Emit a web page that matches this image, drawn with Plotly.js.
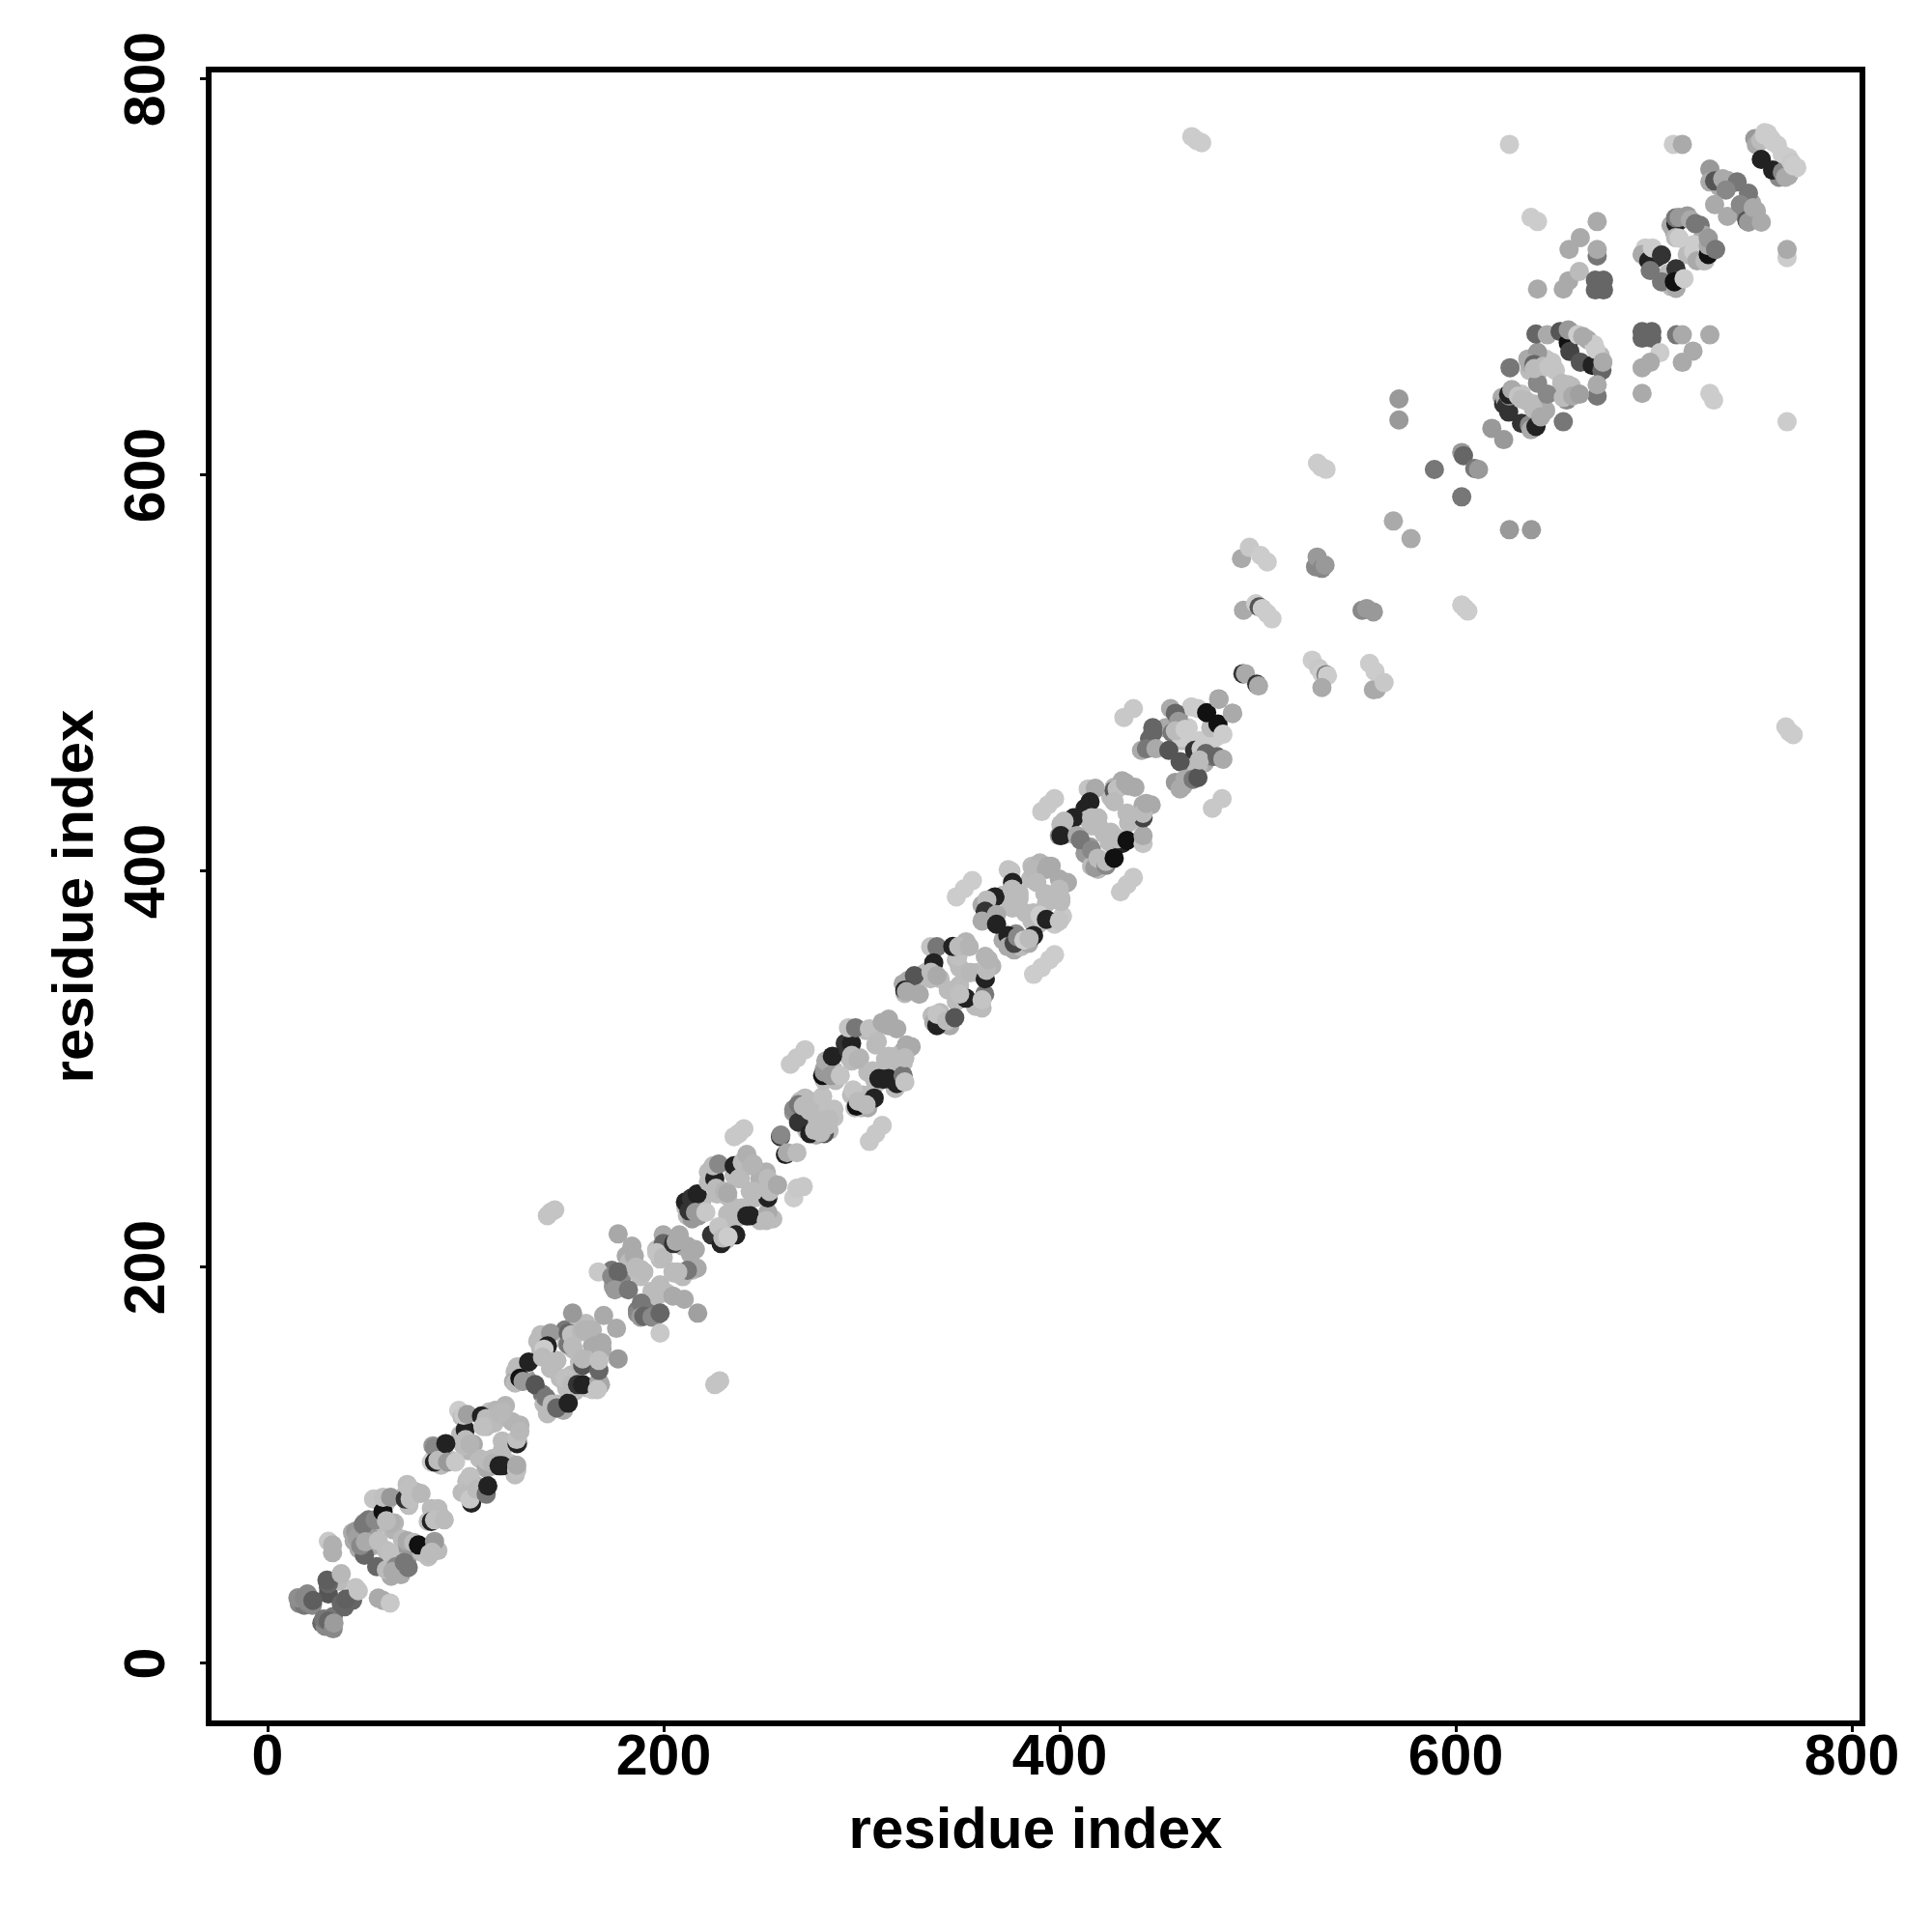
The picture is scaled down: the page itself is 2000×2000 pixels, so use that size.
<!DOCTYPE html>
<html><head><meta charset="utf-8">
<script src="https://cdn.plot.ly/plotly-3.0.1.min.js"></script>
<style>html,body{margin:0;padding:0;background:#fff}</style></head>
<body><div id="chart" style="width:2000px;height:2000px"></div>
<script>
// each entry: residue index i, residue index j, grey level. "under" lists are drawn below the block of the same letter.
const underA=[[16,30.2,136],[18.5,29.4,119],[20.1,35.1,136],[22.6,29.4,136],[27.4,20.4,102],[29,18.8,136],[33.1,23.7,119],[30.7,38.3,102],[30.7,35.1,85],[36.4,41.6,187],[38.8,28.6,102],[42.9,31.9,102],[37.2,30.2,102],[44.5,38.3,196],[58.3,31.8,170]];
const blockA=[[15.3,33.1,142],[18.5,33.1,136],[20.1,31,136],[22.9,31.8,94],[28.3,22.4,119],[30.7,21.3,102],[33.1,17.5,136],[33.5,20.4,156],[30.7,40.3,102],[30,42,94],[37.2,45.3,184],[40.4,31.5,102],[39.6,32.5,96],[45.8,36.7,196],[55.9,33,170],[61.9,30.5,200],[30.7,61.7,200],[32.8,59.8,176],[32.8,55.9,176]];
const underB=[[42.9,66,170],[43.7,61.9,170],[46.1,57.8,170],[48.9,70.9,136],[51,72.5,119],[52.6,69.2,153],[64,70.9,180],[63.2,67.6,180],[58.3,70.9,187],[51,60.3,187],[53.5,59.5,170],[60,81.4,196],[53.5,83,196],[70.5,90.4,190],[69.7,85.5,190],[73.8,87.1,187],[75.4,86.3,180],[71.3,79.8,190],[82.7,78.2,187],[86,78.2,187],[87.6,74.1,187],[81.1,71.7,192],[68.1,62.7,187],[70.5,58.7,170],[68.9,54.6,153],[73,57,187],[70.5,53,153],[65.6,51.3,187],[63.2,48.9,187],[67.3,44.8,170],[62.4,44,170],[77.8,56.2,187],[81.1,53.8,190],[86,57,187],[60,57,187]];
const blockB=[[44.5,66.8,153],[45.3,63.5,160],[48.3,70,119],[48.9,54.6,102],[47,59.5,136],[49.4,61.4,170],[54.3,72.5,136],[55.1,48.9,102],[55.9,61.9,190],[55.9,83,196],[58.3,76.6,17],[58.3,83.9,192],[62.1,83.9,153],[62.4,70.9,176],[60,72,187],[61.6,56.2,192],[60,47.3,187],[64.8,48.9,136],[63.2,46.5,170],[66.5,45.6,170],[69,51,119],[71,48.4,119],[70.5,61.9,170],[73.8,61.1,187],[76.2,59.8,17],[84.3,61.6,153],[81.9,55.4,187],[83,56.2,187],[69.5,83,51],[71.3,88.7,192],[72,83,192],[77.5,85.8,184],[85.2,77.4,187],[82.7,71.7,34],[84.3,72.5,192],[89.2,72.5,187]];
const underC=[[84,103.4,187],[83.5,109.9,153],[86.8,103.4,192],[87.6,100.1,187],[92.5,102.6,187],[96.5,127.8,204],[98.2,124.5,187],[97.4,115.6,187],[101.4,107.4,180],[99,109.9,187],[103.9,110.7,170],[98.2,86.3,187],[100.6,92,190],[102.2,87.1,187],[105.5,85.5,170],[108.7,88.7,187],[104.7,90.4,187],[107.1,103.4,187],[110.4,98.5,170],[113.6,103.4,187],[112,99.3,170],[110.4,119.6,187],[112,127,190],[115.2,127.8,180],[120.1,130.2,180],[114.4,121.3,187],[120.1,111.5,187],[118.5,107.4,187],[127.4,120.4,180],[123.4,122.1,180],[126.6,111.5,187],[125,95.2,190],[122.6,100.9,187]];
const blockC=[[82.7,101.7,204],[84.3,109.1,136],[84.3,101.7,34],[86,102.6,187],[90,111,34],[90.9,101.7,153],[94.9,101.7,200],[99.8,118,34],[99,125.3,200],[100.9,125.7,160],[100,113,187],[102.2,110.7,180],[103,81,34],[102.2,83,200],[102.2,94.4,192],[105.5,87.9,187],[110.4,85.5,119],[111.2,89.6,34],[108,125,34],[110.4,123.7,187],[108.7,119.6,192],[116.9,126.1,184],[118.5,127,184],[110.4,102.6,187],[113.6,100.9,180],[118.5,112.3,187],[116.9,99.8,34],[118.5,99.8,34],[125.8,97.7,192],[125.8,100.1,170],[126,111,34],[125.8,113.1,192],[127.4,117.2,184]];
const underD=[[125,147.3,187],[124.2,142.4,170],[128.3,142.4,170],[130.7,144,153],[129.9,150.5,187],[138,158.7,187],[136.4,162.7,187],[139.6,155.4,187],[146.1,153,187],[142.9,148.9,187],[138.8,135.9,119],[139.6,131,187],[142.9,127.8,153],[146.1,131,187],[149.4,127.8,170],[147.8,144,187],[151,139.1,187],[155.1,137.5,187],[153.5,145.7,187],[161.6,139.1,187],[168.1,140.8,170],[164,138.3,200],[150.2,168.4,119],[151,161.9,187],[154.3,158.7,187],[157.5,171.7,187],[160.8,171.7,187],[164,168.4,180],[165.7,158.7,170],[168.9,161.9,170],[164,160.3,170],[157.5,152.2,187],[162.4,153,187],[167.3,155.4,187]];
const blockD=[[126,149.7,187],[125,141.6,187],[127.4,144,17],[129,142.4,153],[131.8,152.2,34],[135.1,140.8,85],[138,166,187],[142.9,166.8,153],[141.3,160.3,34],[139.6,158.7,204],[138.8,154.6,187],[144.5,152.2,187],[142.9,152.2,187],[140.5,134.3,119],[141.3,126.1,187],[143.7,131,187],[146,129,102],[151.8,131.4,34],[150.2,144,192],[153.5,140.8,187],[156.5,140.8,51],[159.1,140.8,34],[167.3,142.4,168],[166.5,138.3,196],[151.8,166.8,102],[151.8,161,119],[153.5,166,192],[158.5,167.6,184],[160,168.4,180],[154,160.3,187],[167.3,160.3,170],[168.9,158.7,170],[159.1,150.5,85],[159.1,153.8,184],[167.3,148,102],[167.3,153,192],[154,176.9,153],[169.7,175.7,170],[176.2,169.2,170],[177,153.8,153],[177,216.9,168]];
const underE=[[181.1,205.8,170],[182.7,202.6,187],[183.5,198.5,187],[188.4,195.3,190],[173.8,198.5,119],[174.6,190.4,153],[178.7,192.8,136],[186.8,178.2,119],[186.8,176.6,136],[191.7,178.2,119],[194.9,179,119],[194.1,187.9,187],[198.2,191.2,187],[201.4,187.1,187],[196.5,185.5,187],[196.5,209,190],[198.2,204.2,190],[203,213.9,170],[207.9,216.4,170],[209.6,210.7,170],[204.7,197.7,187],[209.6,195.3,187],[214.4,198.5,187],[216,209,170],[212,210.7,170]];
const blockE=[[167,197.7,200],[173.8,195.3,136],[177,197.7,102],[175.4,188.7,153],[182.2,188.7,119],[188.7,181.9,119],[188.4,174.9,153],[190,175.3,102],[194.1,174.9,136],[196,175.5,136],[198.2,176.9,102],[198.2,166.8,200],[184,210.7,170],[185.2,205.8,170],[186,200.1,187],[188.5,199,187],[190,197.7,187],[196.5,188.7,187],[199.8,188,187],[204.7,185.5,170],[210.4,183.9,170],[217.2,176.9,160],[199.8,216.4,170],[199.8,212,102],[196.5,207.4,196],[199.8,205,187],[205,212,51],[206.3,213.1,170],[213.6,206.6,170],[216.9,199.6,170],[212,198.5,119],[205.5,197,187],[207.1,197.7,187]];
const underF=[[214.4,231.8,187],[212,226.1,187],[214.4,224.5,153],[217.7,226.1,153],[219.3,233.5,187],[224.2,249.7,200],[222.6,248.1,187],[226.6,240.8,180],[229.1,238.4,180],[232.3,235.9,187],[232.3,226.9,187],[235.6,230.2,187],[238,227.8,187],[236.4,224.5,187],[248.6,223.7,187],[255.1,224.5,187],[227.4,216.4,187],[229.1,215.6,200],[231.5,213.9,187],[233.9,218,187],[243.7,238.4,187],[246.1,235.1,187],[248.6,244.8,176],[251.8,248.1,176],[238.8,251.3,187],[242.1,253.8,176],[235.6,246.5,187]];
const blockF=[[141.3,226.1,196],[142.9,227.8,196],[145,229,196],[225.8,140.8,196],[227.1,141.6,196],[228.3,142.7,196],[211.2,230.2,187],[211,233,34],[212.8,228.6,51],[214,235,51],[216.9,237,34],[216.1,227.8,153],[221.3,227.8,200],[222.6,243.2,187],[225.8,244.8,34],[225,251.3,187],[227.8,252.2,136],[224.2,216.4,51],[227.8,220.5,196],[229,212,34],[229.9,214.8,187],[236.4,216.4,34],[232.5,215.5,204],[227,237,187],[226.5,240,187],[230.7,238.4,180],[237.2,228.6,187],[239.6,230,187],[242,226,34],[243.7,226.1,34],[252.6,227.8,170],[251.8,223.7,187],[238.8,244.8,187],[235.6,251.3,34],[239.7,253,187],[244.5,251.3,180],[245.3,238.4,187],[252.6,235.1,34],[253.5,243.2,176],[253.5,238.3,187],[242,257,176],[245.3,252.2,180],[238,244.8,187],[245.3,238.3,187],[252.6,244.8,187],[257.5,241.6,170],[232.3,237.5,170],[235.6,266,200],[238,267.6,200],[240.5,270,200],[265.7,235.1,204],[267.3,240,200],[270.5,240.8,200]];
const underG=[[265.7,278.2,153],[268.9,283.9,187],[271.4,278.2,187],[271.4,285.5,187],[277,283.9,187],[277.9,278.2,187],[274.6,277.4,187],[272.2,269.2,187],[273.8,271.7,187],[277,266.8,170],[279.5,270.9,187],[282.7,279,192],[286,275.7,192],[281.1,269.2,187],[283.5,269.2,187]];
const blockG=[[259,266,51],[259.2,266.8,136],[261.5,257,34],[262.4,257.9,170],[267.3,257.9,187],[265.7,279.8,136],[268.1,282.2,119],[268.1,273.3,51],[270.5,281.4,187],[273,283,187],[273.8,279,187],[273.8,267.6,34],[276.2,269.2,187],[280.3,286.3,192],[286,279.8,192],[281.1,267.6,85],[279.5,268,187],[282.7,271.7,187],[280,274,187],[283.5,275,187]];
const underH=[[291.7,313.1,51],[293.3,306.6,187],[294.9,304.2,187],[299,305.8,180],[286,299.3,187],[281.1,300.1,170],[286.8,294.4,187],[281.1,294.4,187],[294.9,287.1,187],[296.6,280.6,187],[299.8,280.6,187],[303.1,280.6,170],[300.6,287.1,187],[303.1,298.5,187],[307.1,292.8,187],[306.3,295.3,187],[316.9,290.4,187],[317.7,292.8,34],[302.2,319.6,187],[307.1,312.3,187],[306.3,319.6,180],[313.6,325.3,170],[317.7,320.5,170],[312,305,187],[313.6,302.6,187],[321,309.1,170],[325,311.5,170],[316.9,306.6,187],[321,303.4,187]];
const blockH=[[280.3,296.9,17],[281.1,298.5,153],[281.9,304.2,170],[285.2,306.6,34],[293.3,309.9,51],[294.9,313.1,34],[293.3,321,196],[296.9,321,119],[284.5,296.9,153],[289.2,296.9,196],[295,307,187],[298.2,305,180],[295.7,289.6,196],[297.4,281.4,17],[298.2,283.9,187],[306.3,285.5,34],[302.2,282.2,187],[305.5,299.3,187],[308.7,295.3,34],[311,295,34],[313.6,295.3,34],[320.9,296.9,119],[321.8,293.6,196],[303.9,320.5,192],[307.9,314,187],[310.4,323.7,170],[313.6,322,170],[313.6,306.6,187],[322.6,312.3,170],[321.8,305.8,187],[264,302.6,200],[267.3,305.8,200],[271.4,309.9,200],[303.9,263.6,200],[307.1,267.6,200],[310.4,271.7,200]];
const underI=[[321,343.2,170],[321.8,338.3,187],[327.4,340,187],[332.3,348.9,187],[334.8,345.7,187],[339.6,345.7,187],[335.6,327,187],[336.4,323.7,170],[341.3,322.9,187],[344.5,322,170],[339.6,328.6,187],[343.7,340,187],[347.8,334.3,187],[349.4,342.4,187],[357.5,331.8,187],[360.8,331,187],[347.8,355.4,187],[349.4,351.4,187],[354.3,348.9,187],[352.7,364.4,180],[362.4,357,180],[365.7,352.2,180],[358.3,348.9,187]];
const blockI=[[323.4,344.8,170],[326.6,347.3,85],[321.8,340,34],[322.6,339.2,170],[329.1,337.9,170],[334.8,361.9,196],[338,361.9,119],[336.4,353.8,34],[335,349,187],[338,347.3,170],[338,322.1,34],[338,327.8,196],[342.9,324.5,187],[347,326.1,85],[346.2,339.2,187],[352.7,335.9,34],[349.5,338,192],[362.1,337.9,119],[360.8,335.1,196],[348.6,357,192],[346,362,34],[349,362,187],[354.3,361.9,180],[355.1,348.9,184],[362.4,345.7,34],[363,350,187],[364,355.4,180]];
const underJ=[[360.8,383,170],[362.4,375.7,170],[364.9,381.4,187],[364.9,376.6,170],[371.4,387.9,187],[374.6,384.7,187],[379.5,386.3,187],[376.2,381.4,187],[371.4,365.2,170],[377,360.3,170],[380.3,361.9,187],[384.4,363.6,170],[377.9,368.4,136],[382.7,379,187],[386,374.9,187],[389.2,373.3,187],[390.9,376.6,204],[397.4,373.3,200],[401.4,377.4,200],[385.2,396.1,187],[386,402.6,187],[390,404.2,180],[395.7,402.6,170],[399.8,396.1,170],[403.9,394.4,170],[392.5,388.8,187],[393.3,383.9,187],[400.6,384.7,187]];
const blockJ=[[375.4,400.1,196],[374,400.8,196],[376.2,394.4,34],[367.3,387.1,34],[363.2,385.5,187],[362.4,379.8,51],[360.8,374.9,170],[368.1,378.2,170],[368.1,373.3,34],[373.8,367.6,34],[373.8,361.9,170],[377,363.6,68],[378.7,366.8,136],[381.9,365.2,204],[376,391,187],[379.5,388.8,187],[386.8,379,187],[390,377.8,204],[386.8,367.6,34],[384.5,366,187],[393.3,375.7,34],[399.8,374.9,196],[386.8,401,184],[393.3,401,170],[394.1,402.6,170],[388.4,394.4,187],[394.9,388,187],[402.2,393.6,170],[400.6,386.3,187],[399.8,391,187],[347.8,387.1,204],[351.8,391.2,204],[355.9,395.3,204],[386.8,348,204],[390.9,351.4,204],[394.9,355.4,204],[397.4,357.9,204]];
const underK=[[400.6,423.7,187],[403.1,418.8,187],[407.1,418.8,170],[404.7,422.9,187],[412.8,431.8,34],[414.4,426.2,187],[420.1,422.1,187],[416.1,422.9,187],[412.8,409.1,153],[416.1,402.6,187],[419.3,401,187],[422.6,404.2,187],[415.3,412.3,153],[422.6,418.8,187],[425,414.8,187],[428.3,417.2,187],[431.5,414,34],[425.8,437.5,187],[427.5,442.4,180],[431.5,445.7,170],[438,442.4,170],[442.1,433.5,170],[446.2,433.5,170],[434,429.4,187],[434.8,424.5,187],[440.5,426.2,187]];
const blockK=[[414.4,441.6,196],[418,441.9,170],[415.3,435.1,34],[407.1,427,34],[402.2,425.3,187],[399.8,418,153],[400.6,418,34],[408.8,418,170],[410.4,415.9,119],[416.1,410.7,136],[417.7,401.8,153],[419.3,406.6,187],[423.4,403,136],[423.4,405,187],[427.5,406.6,17],[416.1,427,187],[419.3,427,187],[425.8,419.7,187],[429.1,416.4,187],[434,415.6,17],[442.1,414,196],[442.1,418,170],[427.5,440.8,85],[429,441.6,192],[427.5,435.1,187],[433.2,444.8,170],[434.8,443.2,170],[442.1,427,68],[434.8,428.6,187],[442.1,429.3,187],[443.7,434.3,170],[390.9,430.2,200],[394.1,433.5,200],[397.4,436.7,200],[430.7,389.6,200],[434,393.3,200],[437.2,396.9,200]];
const underL=[[453.5,472.5,170],[456.8,470,119],[461.6,466,187],[464.9,472.5,204],[461.6,467.6,204],[460,479,136],[445.4,466.8,102],[447,472.5,102],[458.4,444.9,153],[462.4,443.2,170],[465.7,448.1,153],[473,454.6,170],[470.6,466,204],[473,466,204],[468.1,454.6,187],[469.8,453,187],[477.1,457.9,119],[466.5,483,204],[478.7,467.6,204],[476.3,472.5,187]];
const blockL=[[456,482.2,170],[458.4,479.8,102],[460,475.7,153],[447,470,102],[441.3,461.1,170],[443.8,461.9,119],[448.6,461.9,170],[455.1,461.1,85],[458.4,470.9,187],[463.3,471.7,204],[460.8,455.4,85],[460.8,441.6,170],[463.3,446.5,170],[467.4,446.5,119],[469.8,447.3,85],[469.8,482.2,204],[474.2,480.1,17],[480.3,487.1,153],[487.3,479.8,153],[479.9,474.4,17],[482.4,469.2,204],[468.1,461.1,51],[471.4,461.9,204],[473.8,459.5,102],[470.6,456.2,187],[479.5,457.9,102],[482.4,456.6,170],[432.4,477.7,200],[437.2,482.2,200],[477.1,431.8,200],[482,436.7,200]];
const blockM=[[492.5,499.8,51],[493.8,499.8,170],[499.5,494.5,51],[500.4,493.6,170],[480.4,486.8,170],[487.2,479.8,170],[491.8,557.9,170],[495.8,563.6,200],[501.5,559.5,204],[504.8,556.2,204],[529.2,553.8,136],[530,558.7,153],[532.4,553,136],[534,554.6,153],[492.8,531.8,170],[499,535.1,204],[500.7,533.5,85],[502.3,532.7,204],[504.8,530.2,204],[507.2,527.5,204],[552.7,531.8,136],[555,532.7,153],[558.4,531,153],[527.5,506.6,204],[530.8,502.6,200],[532.4,500,204],[534.5,499.3,119],[535.2,498.8,204],[532.4,492.8,170],[558.4,491.7,170],[560,492,170],[556.5,505,204],[559.2,501,204],[563.8,495.3,200],[568.5,576.9,170],[577.4,568,170],[530.2,606.1,204],[532,604.2,204],[534.5,603,204],[603,534.5,204],[604.5,533,204],[606.1,531.4,204]];
const blockN=[[589.2,602.9,119],[603,611.5,153],[603.9,609.9,102],[603,589.1,119],[609.6,603.4,119],[611.5,602.9,153],[618.2,623.7,153],[624.2,618,153],[627.1,572.5,153],[638.2,572.5,153],[654.3,627,119],[627.4,654.3,119],[571.3,638.5,153],[571.3,627.9,153]];
const underO=[[636.4,658.7,170],[637.2,653,187],[641.3,651.4,196],[645.4,658.7,196],[648.6,657,196],[650.3,653,196],[653.5,646.5,187],[652.7,641.7,187],[658.4,644.9,187],[656.8,640,187],[623.4,639.2,170],[624.2,636,51],[630,641.7,187],[633.2,640.9,196],[635.6,637.6,187],[639.7,636,187],[641.3,631.9,187],[640.5,628.7,187],[637.2,626.2,170],[645.4,632.7,170],[657.6,672.6,153],[658.4,670.1,187],[666.5,668.5,170],[669.8,666,204],[673,660.4,187]];
const blockO=[[625,638.4,170],[626.7,631.9,51],[625.5,635,51],[627,640,136],[626.7,640.8,34],[628.3,643.3,170],[631.6,640,196],[633.2,638.4,187],[633.2,626.2,51],[637.2,625.4,136],[638,623,170],[639.2,633.5,187],[640.5,624.6,34],[642.9,629.5,170],[641.3,646.5,136],[641.3,662,153],[637.2,656.3,170],[639.5,656,102],[639.7,653.9,187],[644,655,187],[647,654.7,196],[640.5,671.3,102],[646.2,670.9,170],[646.2,640.9,136],[652.7,672.6,85],[656.8,666.9,17],[656.8,673.4,153],[657.6,662.5,68],[662.9,657.1,85],[661.6,670.9,204],[664.1,670.1,170],[668.9,655.5,34],[670.6,663.6,204],[673.8,653,102],[674.3,657.1,170],[671.4,640,119],[671.4,645.7,170],[656,638,136],[654.3,639.2,187],[656.8,645.7,187],[659,640,170],[662.5,640.9,160]];
const blockP=[[641.3,694,170],[654.3,694,170],[657,698.2,170],[662.4,702.9,187],[657.2,714,170],[662.9,720,170],[671.4,728.1,170],[671.4,710.7,119],[671.4,714,170],[670.5,698.5,102],[674.6,698.5,102],[670.5,693.6,102],[674.6,693.6,102],[638,730.2,204],[641.3,728.1,204],[627.1,767.1,204],[709.9,767.1,204],[714.4,767.1,170],[694.1,672.5,102],[699,672.5,102],[694.1,669.2,102],[699,669.2,102],[711.5,670.9,119],[714.4,670.9,170],[728.3,670.9,170],[719.8,662.7,170],[714.4,657,170],[703.1,661.9,204],[698.2,657,170],[694.1,654.3,170],[694.1,641.3,170],[728.3,641.3,204],[730.2,638,204],[767.3,627,204],[767.3,709.9,204],[767.3,714,170]];
const underQ=[[695.7,714.8,204],[696.6,711.5,187],[701.4,709.9,51],[707.1,701.8,187],[708.7,695.3,187],[712.8,698.5,204],[712.8,728.6,119],[716.9,731,153],[723.4,726.2,119],[725,721.3,170],[720.1,716.4,204],[710.4,722.9,170],[716.9,711.5,187],[725,708.3,187]];
const blockQ=[[694.1,711.5,170],[697.4,708.3,34],[699.3,714.8,204],[703.9,711.2,51],[698.2,703.4,119],[703.9,697.7,119],[711.2,704.2,51],[711.2,694.4,170],[710.4,697.7,17],[715.3,699.3,204],[708.7,726.2,170],[711.2,727,34],[711,730,119],[712.8,730.2,153],[718.5,729,170],[721,727,119],[711,720,187],[712.8,719.7,204],[720.1,713.2,204],[721.8,708.3,170],[725.8,708.3,187],[727.5,711.5,17],[727.5,716,170],[727.5,719.7,153],[731.2,714,119]];
const underR=[[733.1,745.7,170],[734,748.1,187],[738,746.5,170],[749.4,737.5,170],[751.8,733.5,170],[744.5,732.7,136],[747.8,731,102]];
const blockR=[[728.3,754.6,153],[728.3,748.1,170],[730.7,748.6,85],[734.8,749.7,170],[737.2,748.9,170],[742.1,748.1,119],[736.4,744,136],[730.7,736.7,170],[737.2,730.7,170],[747.8,742.4,119],[743.7,736.7,136],[747,728.6,85],[747.8,727.8,153],[754.3,727.8,170],[750.2,735.1,170]];
const underS=[[751,770,153],[757.5,772.5,204],[759.2,770,204],[762.4,766.8,204],[764.9,761.9,204],[766.5,758.7,204],[763.2,750.5,136],[768.1,751.4,170],[772.2,755.4,204]];
const blockS=[[751.8,766.8,170],[754,769,187],[754.3,759.5,34],[760,754.1,34],[764.9,753,136],[766.5,750.5,170],[755.9,771.7,204],[756,773,204],[760,768.4,204],[768.1,760.3,204],[769.5,758,200],[770.5,756.2,204],[466.7,771,204],[469.2,769.1,204],[471.7,767.9,204],[766.7,472.9,204],[768.5,470.4,204],[770.4,469,204]];

const tickValues=[0,200,400,600,800];
const axisTitle='residue index';
const xRange=[-28.3,803.9], yRange=[-28.8,803.4];

const allPoints=[].concat(underA,blockA,underB,blockB,underC,blockC,underD,blockD,underE,blockE,underF,blockF,underG,blockG,underH,blockH,underI,blockI,underJ,blockJ,underK,blockK,underL,blockL,blockM,blockN,underO,blockO,blockP,underQ,blockQ,underR,blockR,underS,blockS);
const font={family:'"Liberation Sans",Arial,sans-serif',size:59,color:'#000',weight:700};
const titleFont={family:'"Liberation Sans",Arial,sans-serif',size:60,color:'#000',weight:700};
const axis=(range,standoff,labelGap,labelShift,angle)=>({range,autorange:false,tickvals:tickValues,ticktext:tickValues.map(String),
  ticks:'outside',ticklen:6,tickwidth:3,tickcolor:'#000',showgrid:false,zeroline:false,
  showline:true,mirror:true,linewidth:6,linecolor:'#000',tickangle:angle,tickfont:font,ticklabelstandoff:labelGap,ticklabelshift:labelShift,
  title:{text:'<b>'+axisTitle+'</b>',font:titleFont,standoff},automargin:false});
Plotly.newPlot('chart',[{type:'scatter',mode:'markers',x:allPoints.map(p=>p[0]),y:allPoints.map(p=>p[1]),
  marker:{size:20,line:{width:0},color:allPoints.map(p=>`rgb(${p[2]},${p[2]},${p[2]})`)},hoverinfo:'x+y'}],
 {width:2000,height:2000,margin:{l:219,r:75,t:75,b:219},paper_bgcolor:'#fff',plot_bgcolor:'#fff',showlegend:false,
  xaxis:axis(xRange,24,-27,0,0),yaxis:axis(yRange,3,13,9,-90)},{displayModeBar:false,staticPlot:true});
</script></body></html>
